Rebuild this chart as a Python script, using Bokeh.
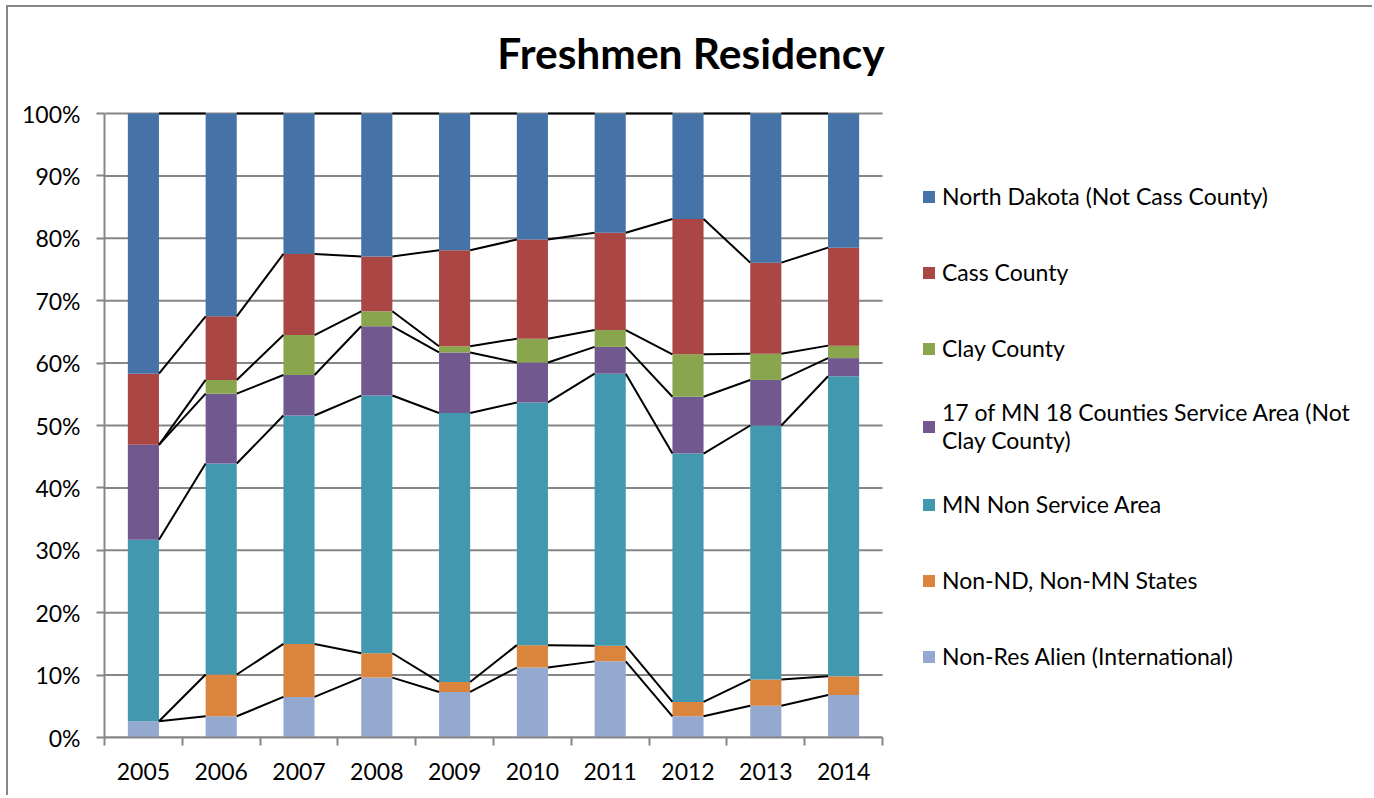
import numpy as np
from bokeh.plotting import figure
from bokeh.models import (ColumnDataSource, Legend, LegendItem, FixedTicker,
                          PrintfTickFormatter, Range1d, Label)
from bokeh.embed import file_html
from bokeh.resources import INLINE

# ---------------- data (percent of freshmen) ----------------
years = ["2005", "2006", "2007", "2008", "2009", "2010", "2011", "2012", "2013", "2014"]
non_res_alien = [2.6, 3.4, 6.5, 9.6, 7.3, 11.2, 12.2, 3.4, 5.1, 6.8]
non_nd_mn_states = [0.0, 6.7, 8.5, 3.9, 1.6, 3.6, 2.5, 2.3, 4.2, 3.0]
mn_non_service = [29.1, 33.8, 36.6, 41.3, 43.1, 38.9, 43.6, 39.8, 40.7, 48.1]
mn_17_counties = [15.2, 11.2, 6.5, 11.1, 9.7, 6.4, 4.3, 9.1, 7.3, 2.9]
clay_county = [0.0, 2.2, 6.4, 2.4, 1.0, 3.8, 2.7, 6.8, 4.2, 2.0]
cass_county = [11.4, 10.2, 13.0, 8.8, 15.4, 15.9, 15.6, 21.7, 14.6, 15.7]
north_dakota = [41.7, 32.5, 22.5, 22.9, 21.9, 20.2, 19.1, 16.9, 23.9, 21.5]

series_names = ["Non-Res Alien (International)", "Non-ND, Non-MN States",
                "MN Non Service Area", "17 of MN 18 Counties Service Area (Not\nClay County)",
                "Clay County", "Cass County", "North Dakota (Not Cass County)"]
series_keys = ["alien", "states", "mn_non", "mn17", "clay", "cass", "nd"]
series_vals = [non_res_alien, non_nd_mn_states, mn_non_service, mn_17_counties,
               clay_county, cass_county, north_dakota]
colors = ["#93A9CF", "#DB843D", "#4198AF", "#71588F", "#89A54E", "#AA4643", "#4572A7"]
y_ticks = list(range(0, 101, 10))
title_text = "Freshmen Residency"

# ---------------- layout constants (pixels) ----------------
FONT = "Lato"
GRAY = "#868686"
BAR_W = 0.4
FS = "23px"
W, H = 1366, 790
ORG_X, ORG_Y = 8, 7            # page position of figure content
FRAME_L, FRAME_B = 104, 737    # page px of plotted area left / bottom (0%)
AXIS_R, AXIS_T = 882, 113      # page px of category axis end / 100% line
FRAME_R = ORG_X + W - 8
FRAME_T = ORG_Y + 3
n = len(years)
px_per_cat = (AXIS_R - FRAME_L) / n
px_per_pct = (FRAME_B - AXIS_T) / 100.0
x_end = -0.5 + (FRAME_R - FRAME_L) / px_per_cat
y_end = (FRAME_B - FRAME_T) / px_per_pct

x = list(range(n))
data = {"x": x}
for k, v in zip(series_keys, series_vals):
    data[k] = v
source = ColumnDataSource(data)

p = figure(width=W, height=H, output_backend="svg", toolbar_location=None,
           x_range=Range1d(-0.5, x_end), y_range=Range1d(0, y_end),
           min_border_left=FRAME_L - ORG_X, min_border_right=ORG_X + W - FRAME_R,
           min_border_top=FRAME_T - ORG_Y, min_border_bottom=ORG_Y + H - FRAME_B,
           styles={"border-left": "2px solid #878787", "border-top": "2px solid #878787",
                   "margin-left": "6px", "margin-top": "5px"})
p.outline_line_color = None
p.background_fill_color = "white"
p.border_fill_color = "white"
p.xgrid.visible = False
p.ygrid.visible = False

# horizontal gridlines limited to the category area
p.segment(x0=[-0.5] * len(y_ticks), x1=[n - 0.5] * len(y_ticks), y0=y_ticks, y1=y_ticks,
          line_color=GRAY, line_width=2)

renderers = p.vbar_stack(series_keys, x="x", width=BAR_W, color=colors,
                         line_color=None, source=source)

# series lines connecting the tops of each stacked segment
cum = np.cumsum(np.array(series_vals), axis=0)
x0s, x1s, y0s, y1s = [], [], [], []
for s in range(cum.shape[0]):
    for i in range(n - 1):
        x0s.append(x[i] + BAR_W / 2)
        x1s.append(x[i + 1] - BAR_W / 2)
        y0s.append(cum[s, i])
        y1s.append(cum[s, i + 1])
p.segment(x0=x0s, y0=y0s, x1=x1s, y1=y1s, line_color="black", line_width=2)

# y axis
p.yaxis.bounds = (0, 100)
p.yaxis.ticker = FixedTicker(ticks=y_ticks)
p.yaxis.formatter = PrintfTickFormatter(format="%d%%")
p.yaxis.axis_line_color = GRAY
p.yaxis.axis_line_width = 2
p.yaxis.major_tick_line_color = GRAY
p.yaxis.major_tick_line_width = 2
p.yaxis.major_tick_out = 8
p.yaxis.major_tick_in = 0
p.yaxis.minor_tick_line_color = None
p.yaxis.major_label_standoff = 16
p.yaxis.major_label_text_font = FONT
p.yaxis.major_label_text_font_size = FS
p.yaxis.major_label_text_color = "black"

# x axis: labels at category centres, ticks at category boundaries
p.xaxis.bounds = (-0.5, n - 0.5)
p.xaxis.ticker = FixedTicker(ticks=x, minor_ticks=[i - 0.5 for i in range(n + 1)])
p.xaxis.major_label_overrides = {i: yr for i, yr in zip(x, years)}
p.xaxis.axis_line_color = GRAY
p.xaxis.axis_line_width = 2
p.xaxis.major_tick_line_color = None
p.xaxis.major_tick_out = 0
p.xaxis.major_tick_in = 0
p.xaxis.minor_tick_line_color = GRAY
p.xaxis.minor_tick_line_width = 2
p.xaxis.minor_tick_out = 8
p.xaxis.minor_tick_in = 0
p.xaxis.major_label_standoff = 17
p.xaxis.major_label_text_font = FONT
p.xaxis.major_label_text_font_size = FS
p.xaxis.major_label_text_color = "black"

# title (centred over the whole chart)
TITLE_CX, TITLE_BASE = 690.5, 52
p.add_layout(Label(x=-0.5 + (TITLE_CX - FRAME_L) / px_per_cat,
                   y=(FRAME_B - TITLE_BASE) / px_per_pct,
                   text=title_text, text_align="center", text_baseline="alphabetic",
                   text_font=FONT, text_font_style="bold", text_font_size="42.5px",
                   text_color="black"))

# legend (top to bottom reversed)
items = [LegendItem(label=series_names[i], renderers=[renderers[i]])
         for i in reversed(range(len(series_keys)))]
legend = Legend(items=items, location=(921 - FRAME_L, 55), orientation="vertical",
                glyph_width=15, glyph_height=15, label_standoff=6,
                label_height=52, spacing=24, padding=0, margin=0,
                border_line_color=None, background_fill_alpha=0,
                label_text_font=FONT, label_text_font_size=FS,
                label_text_color="black", label_text_line_height=1.3)
p.add_layout(legend, "center")

open("out.html", "w").write(file_html(p, INLINE))
